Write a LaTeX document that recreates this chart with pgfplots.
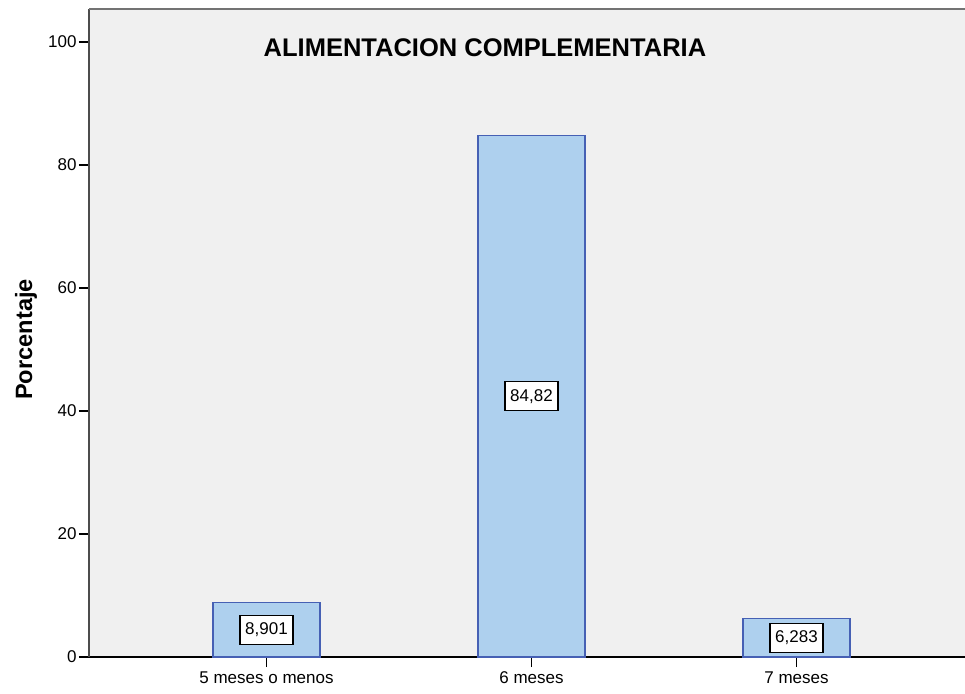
\documentclass[border=0pt]{standalone}
\usepackage{fontspec}
\setmainfont{Liberation Sans}
\usepackage{pgfplots}
\usepackage{pgfplotstable}
\pgfplotsset{compat=1.18}
\definecolor{bgc}{RGB}{240,240,240}
\definecolor{barfill}{RGB}{174,208,238}
\definecolor{barline}{RGB}{70,96,180}
\pgfplotstableread{
x y label
0 8.901 8,901
1 84.82 84,82
2 6.283 6,283
}\data
\begin{document}
\begin{tikzpicture}
\useasboundingbox (0,0) rectangle (482.5pt,346.5pt);
\begin{axis}[
  at={(44.5pt,18pt)}, anchor=south west,
  scale only axis, width=438pt, height=324pt,
  xmin=-0.6698, xmax=2.6358, ymin=0, ymax=105.37,
  axis background/.style={fill=bgc},
  axis x line*=bottom, axis y line*=left,
  x axis line style={black, line width=0.75pt, -},
  y axis line style={black!70, line width=1pt, -},
  xtick={0,1,2}, xticklabels={5 meses o menos,6 meses,7 meses},
  ytick={0,20,40,60,80,100},
  tick align=outside,
  major tick length=5pt,
  tick style={black, line width=0.75pt},
  /pgf/number format/assume math mode=true,
  tick label style={font=\fontsize{8.5}{10}\selectfont},
  yticklabel style={inner sep=1pt},
  xticklabel style={inner sep=1pt, yshift=-1pt},
  ylabel={Porcentaje},
  ylabel style={at={(axis description cs:-0.0719,0.49)}, anchor=center, font=\fontsize{11.8}{13}\selectfont\bfseries},
  title={ALIMENTACION COMPLEMENTARIA},
  title style={at={(axis description cs:0.452,0.9075)}, anchor=base, font=\fontsize{12.75}{15}\selectfont\bfseries},
  ybar, bar width=53.5pt, bar shift=0pt,
  nodes near coords,
  point meta=explicit symbolic,
  visualization depends on={rawy \as \rawy},
  every node near coord/.append style={anchor=center, shift={(axis direction cs:0,-\rawy/2)},
     draw=black, fill=white, line width=0.6pt, inner xsep=2.6pt, inner ysep=0pt,
     minimum height=14.5pt, font=\fontsize{8.5}{10}\selectfont, text=black},
]
\addplot[fill=barfill, draw=barline, line width=0.75pt] table[x=x, y=y, meta=label] {\data};
\end{axis}
\draw[black!55, line width=1pt] (44.5pt,342pt) -- (482.5pt,342pt);
\end{tikzpicture}
\end{document}
